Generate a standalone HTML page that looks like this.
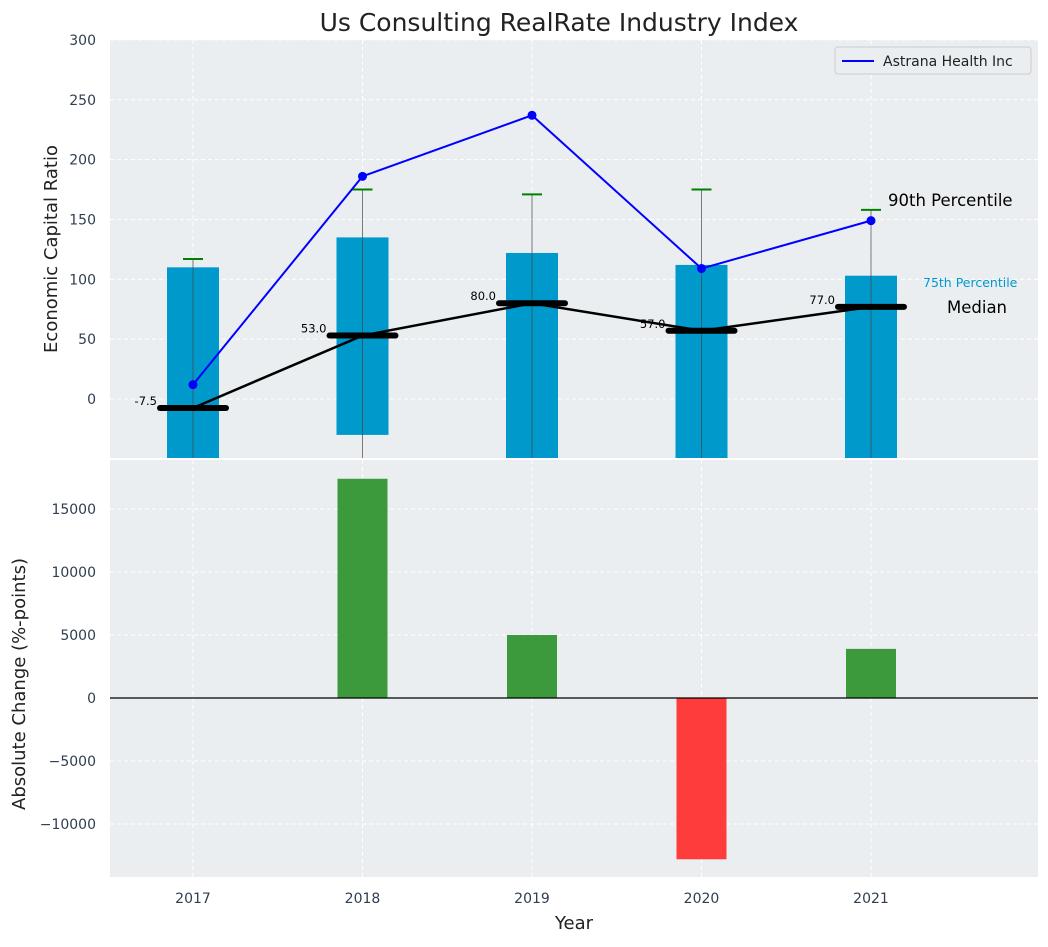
<!DOCTYPE html>
<html><head><meta charset="utf-8"><style>
body{margin:0;background:#fff;font-family:"Liberation Sans","DejaVu Sans",sans-serif}
svg text{font-family:"DejaVu Sans","Liberation Sans",sans-serif}
</style></head><body>
<svg id="chart" width="1048" height="942" xmlns="http://www.w3.org/2000/svg">
<text x="559" y="31" text-anchor="middle" font-size="25" fill="#222">Us Consulting RealRate Industry Index</text>
<rect x="110" y="40" width="928" height="418" fill="#eaeef0"/>
<rect x="110" y="460" width="928" height="417" fill="#eaeef0"/>
<g id="topPanel"></g><g id="botPanel"></g>
<text transform="translate(57,249) rotate(-90)" text-anchor="middle" font-size="18" fill="#222">Economic Capital Ratio</text>
<text transform="translate(25,684) rotate(-90)" text-anchor="middle" font-size="18" fill="#222">Absolute Change (%-points)</text>
<text x="574" y="929" text-anchor="middle" font-size="18" fill="#222">Year</text>
<g>
<rect x="835" y="47" width="196" height="27" rx="3" fill="#eaeef0" stroke="#ccc"/>
<line x1="842" y1="61" x2="874" y2="61" stroke="#0000ff" stroke-width="2"/>
<text x="883" y="66" font-size="14" fill="#222">Astrana Health Inc</text>
</g>
<text x="888" y="206" font-size="16.5" fill="#000">90th Percentile</text>
<text x="923" y="287" font-size="12.5" fill="#0099cc">75th Percentile</text>
<text x="947" y="313" font-size="16.5" fill="#000">Median</text>
</svg>
<script>
const years=[2017,2018,2019,2020,2021];
const p75=[110,135,122,112,103];
const p25=[-60,-30,-60,-60,-60];
const p90=[117,175,171,175,158];
const medians=[-7.5,53,80,57,77];
const company=[12,186,237,109,149];
const changes=[0,17400,5000,-12800,3900];
const topTicks=[0,50,100,150,200,250,300];
const botTicks=[-10000,-5000,0,5000,10000,15000];
const NS="http://www.w3.org/2000/svg";
const X=y=>193+(y-2017)*169.5;
const Y1=v=>399-v*1.197;
const Y2=v=>698-v*0.0126;
const tp=document.getElementById('topPanel'),bp=document.getElementById('botPanel');
function mk(p,t,a){const e=document.createElementNS(NS,t);for(const k in a)e.setAttribute(k,a[k]);p.appendChild(e);return e;}
topTicks.forEach(t=>{const g=mk(tp,'line',{x1:110,x2:1038,y1:Y1(t),y2:Y1(t),stroke:'#fff','stroke-dasharray':'4,3'});


const l=mk(tp,'text',{x:96,y:Y1(t)+5,'text-anchor':'end','font-size':14,fill:'#2f3e50'});l.textContent=t;

});
botTicks.forEach(t=>{const g=mk(bp,'line',{x1:110,x2:1038,y1:Y2(t),y2:Y2(t),stroke:'#fff','stroke-dasharray':'4,3'});


const l=mk(bp,'text',{x:96,y:Y2(t)+5,'text-anchor':'end','font-size':14,fill:'#2f3e50'});l.textContent=t<0?'\u2212'+(-t):t;

});
years.forEach(y=>{[[tp,40,458],[bp,460,877]].forEach(([p,a,b])=>{const g=mk(p,'line',{x1:X(y),x2:X(y),y1:a,y2:b,stroke:'#fff','stroke-dasharray':'4,3'});

});
const l=mk(bp,'text',{x:X(y),y:903,'text-anchor':'middle','font-size':14,fill:'#2f3e50'});l.textContent=y;

});
const clipTop=v=>Math.min(Y1(v),458);
years.forEach((y,i)=>{
const yt=Y1(p75[i]),yb=clipTop(p25[i]);
const b=mk(tp,'rect',{x:X(y)-26,y:yt,width:52,height:yb-yt,fill:'#0099cc'});


const w=mk(tp,'line',{x1:X(y),x2:X(y),y1:Y1(p90[i]),y2:458,stroke:'#444','stroke-opacity':0.7,'stroke-width':1});


const c=mk(tp,'line',{x1:X(y)-10,x2:X(y)+10,y1:Y1(p90[i]),y2:Y1(p90[i]),stroke:'#008000','stroke-width':2});


});
const mp=mk(tp,'polyline',{points:years.map((y,i)=>X(y)+','+Y1(medians[i])).join(' '),fill:'none',stroke:'#000','stroke-width':2.5});


years.forEach((y,i)=>{
const m=mk(tp,'line',{x1:X(y)-33,x2:X(y)+33,y1:Y1(medians[i]),y2:Y1(medians[i]),stroke:'#000','stroke-width':6,'stroke-linecap':'round'});


const t=mk(tp,'text',{x:X(y)-36,y:Y1(medians[i])-3,'text-anchor':'end','font-size':11.5,fill:'#000'});t.textContent=medians[i].toFixed(1);


});
const cl=mk(tp,'polyline',{points:years.map((y,i)=>X(y)+','+Y1(company[i])).join(' '),fill:'none',stroke:'#0000ff','stroke-width':2});


years.forEach((y,i)=>{const d=mk(tp,'circle',{cx:X(y),cy:Y1(company[i]),r:4.5,fill:'#0000ff'});

});
years.forEach((y,i)=>{if(!changes[i])return;const v=changes[i];
const r=mk(bp,'rect',{x:X(y)-25,y:Math.min(Y2(v),Y2(0)),width:50,height:Math.abs(Y2(v)-Y2(0)),fill:v>0?'#3c9a3c':'#ff3c3c'});

});
const z=mk(bp,'line',{x1:110,x2:1038,y1:Y2(0),y2:Y2(0),stroke:'#000','stroke-width':1.2});


</script>
</body></html>
